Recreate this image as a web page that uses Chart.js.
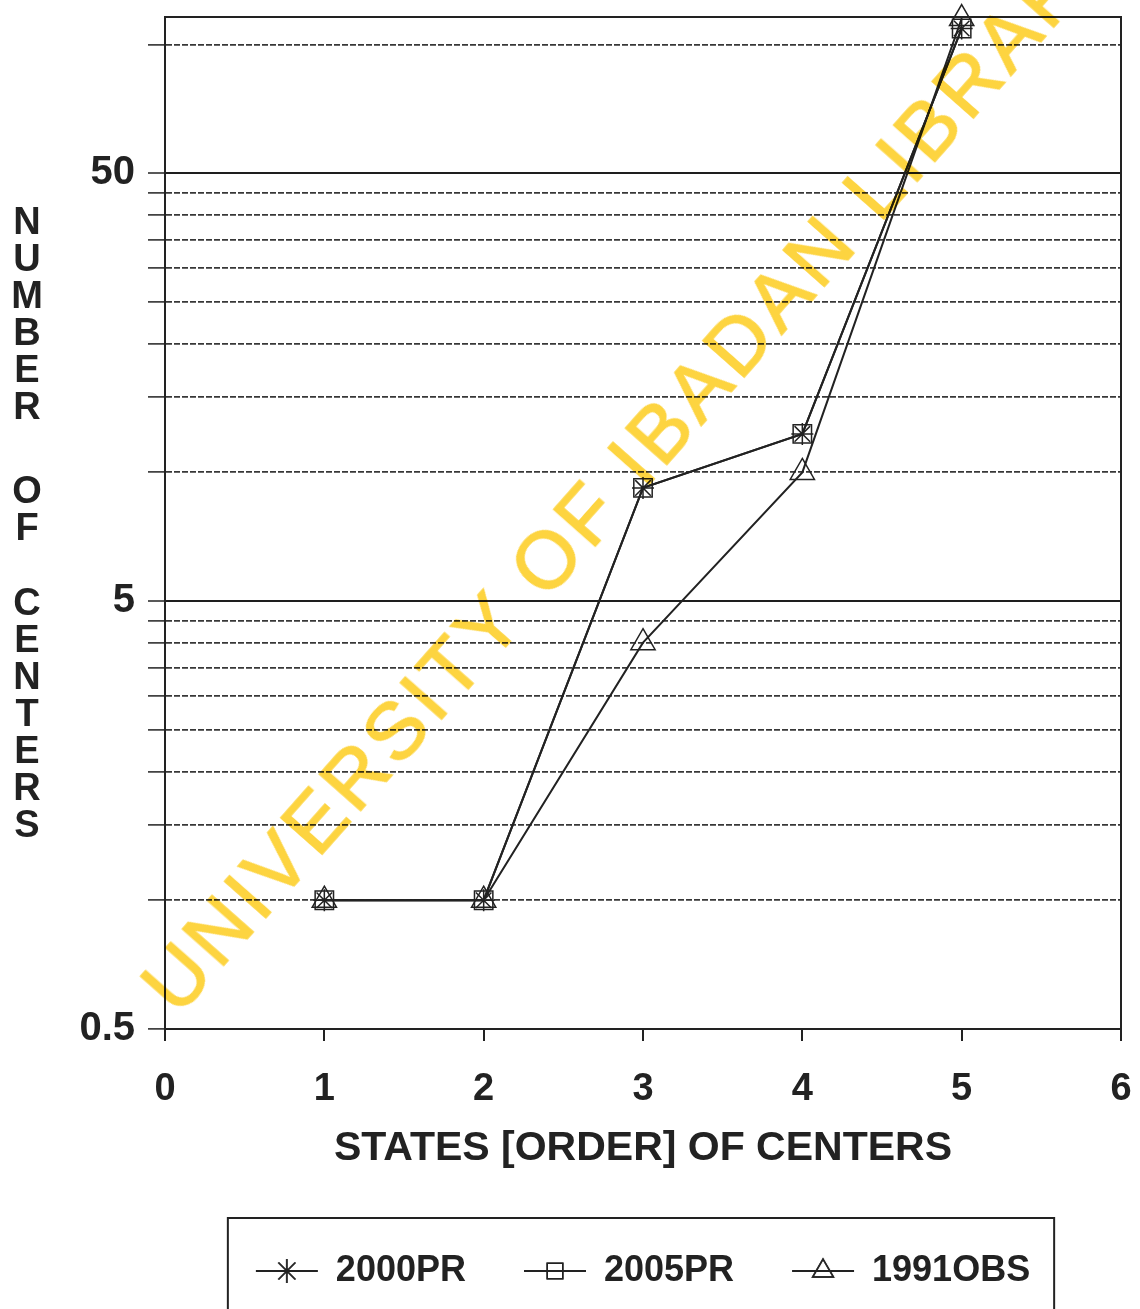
<!DOCTYPE html>
<html>
<head>
<meta charset="utf-8">
<script src="https://cdn.jsdelivr.net/npm/chart.js@4.4.1/dist/chart.umd.min.js"></script>
<style>
  html, body { margin: 0; padding: 0; background: #fff; overflow: hidden; }
  #wrap { position: relative; width: 1140px; height: 1309px; }
  .ytitle {
    position: absolute; left: 10px; width: 34px;
    font: bold 38px "Liberation Sans", Arial, sans-serif;
    line-height: 37px; color: #222; text-align: center; word-break: break-all;
  }
  #watermark {
    position: absolute; left: 633px; top: 462px;
    transform: translate(-50%, -50%) rotate(-48.5deg);
    white-space: nowrap; pointer-events: none;
    font: 80px "Liberation Sans", Arial, sans-serif;
    letter-spacing: 5px; color: rgb(253, 212, 64);
    -webkit-text-stroke: 1.5px rgb(253, 212, 64);
    mix-blend-mode: multiply;
  }
</style>
</head>
<body>
<div id="wrap">
  <canvas id="chart" width="1140" height="1309"></canvas>
  <div class="ytitle" style="top:203px">NUMBER</div>
  <div class="ytitle" style="top:472px">OF</div>
  <div class="ytitle" style="top:584px">CENTERS</div>
  <div id="watermark">UNIVERSITY OF IBADAN LIBRARY</div>
</div>
<script>
// values (log scale)
const xValues = [1, 2, 3, 4, 5];
const pr2000 = [1, 1, 9.2, 12.3, 109];
const pr2005 = [1, 1, 9.2, 12.3, 109];
const obs1991 = [1, 1, 4, 10, 115];

const seriesNames = ['2000PR', '2005PR', '1991OBS'];
const seriesStyles = ['star', 'rect', 'triangle'];

const xTickValues = [0, 1, 2, 3, 4, 5, 6];
const yGridValues = [0.5, 1, 1.5, 2, 2.5, 3, 3.5, 4, 4.5, 5,
  10, 15, 20, 25, 30, 35, 40, 45, 50, 100];
const yLabelValues = [0.5, 5, 50];
const yMajorValues = [5, 50];

const INK = '#222';
const FONT = '"Liberation Sans", Arial, sans-serif';
const pointSizes = { star: 11, rect: 13, triangle: 14 };

function toPoints(ys) {
  return xValues.map((x, i) => ({ x: x, y: ys[i] }));
}

// small line + marker picture for the legend
function legendIcon(style) {
  const c = document.createElement('canvas');
  c.width = 64;
  c.height = 30;
  const g = c.getContext('2d');
  g.strokeStyle = INK;
  g.fillStyle = 'rgba(0,0,0,0)';
  g.lineWidth = 2;
  g.beginPath();
  g.moveTo(1, 15);
  g.lineTo(63, 15);
  g.stroke();
  g.lineWidth = 1.5;
  const r = { star: 12, rect: 11, triangle: 12 }[style];
  Chart.helpers.drawPoint(g, { pointStyle: style, radius: r, borderWidth: 1.5, rotation: 0 }, 32, 15);
  g.stroke();
  return c;
}

const frame = {
  id: 'frame',
  afterLayout(chart) {
    // centre the legend row under the plot area
    const lg = chart.legend, a = chart.chartArea;
    const shift = (a.left + a.right) / 2 - (lg.left + lg.right) / 2;
    lg.left += shift;
    lg.right += shift;
  },
  beforeDatasetsDraw(chart) {
    const a = chart.chartArea, ctx = chart.ctx;
    ctx.save();
    ctx.strokeStyle = INK;
    ctx.lineWidth = 2;
    ctx.strokeRect(a.left, a.top, a.right - a.left, a.bottom - a.top);
    ctx.restore();
  },
  afterDraw(chart) {
    const boxes = chart.legend.legendHitBoxes;
    if (!boxes || !boxes.length) return;
    const first = boxes[0], last = boxes[boxes.length - 1];
    const ctx = chart.ctx;
    ctx.save();
    ctx.strokeStyle = INK;
    ctx.lineWidth = 2;
    const left = first.left - 28;
    const right = last.left + last.width + 24;
    const top = first.top - 35;
    ctx.strokeRect(left, top, right - left, chart.height + 40 - top);
    ctx.restore();
  }
};

const datasets = [pr2000, pr2005, obs1991].map((ys, i) => ({
  label: seriesNames[i],
  data: toPoints(ys),
  borderColor: INK,
  borderWidth: 2,
  pointStyle: seriesStyles[i],
  pointRadius: pointSizes[seriesStyles[i]],
  pointBorderWidth: 1.5,
  pointBorderColor: INK,
  pointBackgroundColor: 'rgba(0,0,0,0)',
  tension: 0,
  clip: false
}));

const icons = seriesStyles.map(legendIcon);

new Chart(document.getElementById('chart'), {
  type: 'line',
  data: { datasets: datasets },
  plugins: [frame],
  options: {
    responsive: false,
    animation: false,
    devicePixelRatio: 1,
    layout: { padding: { left: 0, right: 19, top: 17, bottom: 10 } },
    plugins: {
      tooltip: { enabled: false },
      legend: {
        position: 'bottom',
        labels: {
          usePointStyle: true,
          pointStyleWidth: 62,
          boxHeight: 30,
          padding: 58,
          color: INK,
          font: { family: FONT, size: 36, weight: 'bold' },
          generateLabels: (chart) => chart.data.datasets.map((ds, i) => ({
            text: ds.label,
            pointStyle: icons[i],
            datasetIndex: i,
            fillStyle: 'rgba(0,0,0,0)',
            strokeStyle: INK,
            lineWidth: 0,
            fontColor: INK,
            hidden: false
          }))
        }
      }
    },
    scales: {
      x: {
        type: 'linear',
        min: 0,
        max: 6,
        afterBuildTicks: (s) => { s.ticks = xTickValues.map(v => ({ value: v })); },
        afterFit: (s) => { s.height = 166; s.paddingLeft = 0; s.paddingRight = 0; },
        ticks: {
          padding: 26,
          color: INK,
          font: { family: FONT, size: 38, weight: 'bold' },
          callback: (v) => String(v)
        },
        grid: { drawOnChartArea: false, tickLength: 12, color: INK, lineWidth: 2 },
        border: { color: INK, width: 2 },
        title: {
          display: true,
          text: 'STATES [ORDER] OF CENTERS',
          color: INK,
          font: { family: FONT, size: 41, weight: 'bold' },
          padding: { top: 0, bottom: 22 }
        }
      },
      y: {
        type: 'logarithmic',
        min: 0.5,
        max: 116,
        afterBuildTicks: (s) => { s.ticks = yGridValues.map(v => ({ value: v })); },
        afterFit: (s) => { s.width = 165; s.paddingTop = 0; s.paddingBottom = 0; },
        ticks: {
          autoSkip: false,
          padding: 13,
          color: INK,
          font: { family: FONT, size: 40, weight: 'bold' },
          callback: (v) => yLabelValues.includes(v) ? String(v) : ''
        },
        grid: {
          color: (c) => (c.tick && yMajorValues.includes(c.tick.value)) ? '#1e1e1e' : '#383838',
          lineWidth: (c) => (c.tick && yMajorValues.includes(c.tick.value)) ? 2 : 1.8,
          tickLength: 17,
          tickColor: INK,
          tickWidth: 1.5,
          tickBorderDash: []
        },
        border: {
          color: INK,
          width: 2,
          dash: (c) => (c.tick && !yMajorValues.includes(c.tick.value)) ? [6, 2] : []
        }
      }
    }
  }
});
</script>
</body>
</html>
